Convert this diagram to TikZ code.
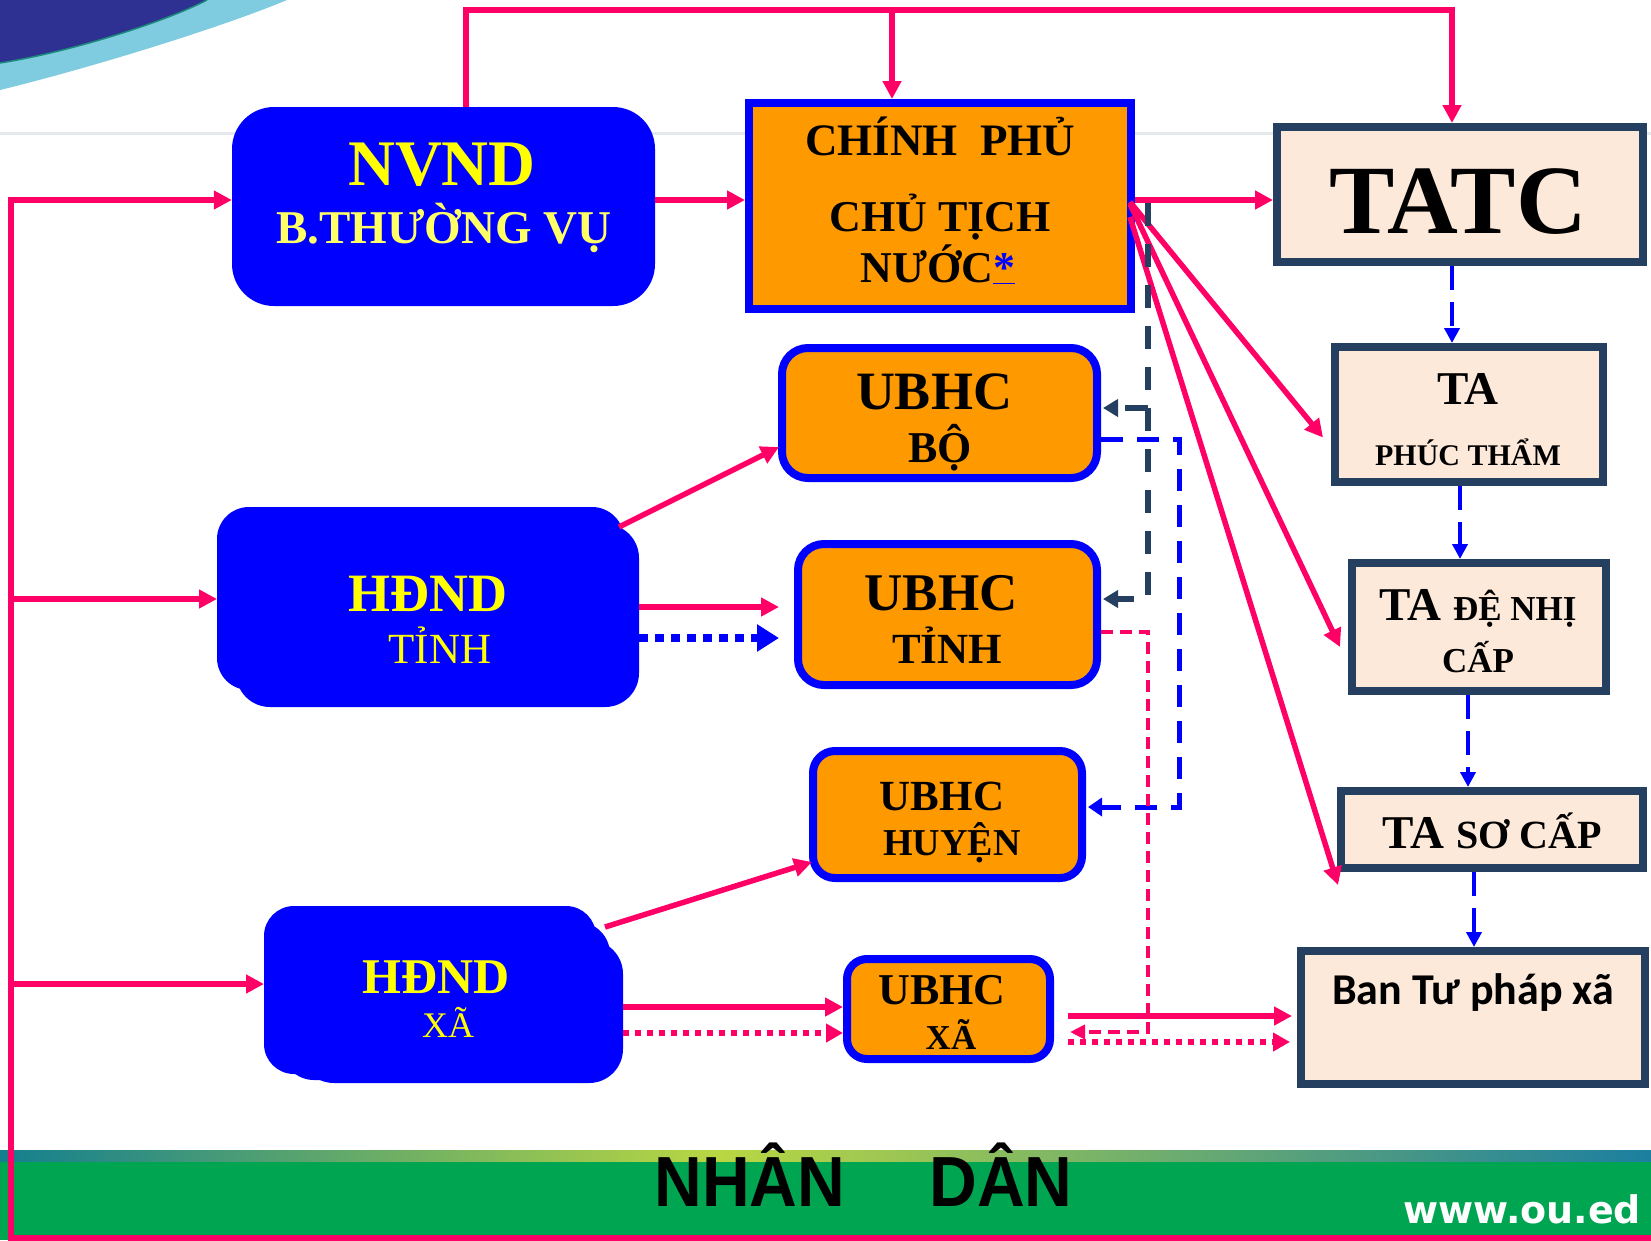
\documentclass[tikz,border=0pt]{standalone}
\usepackage{fontspec}
\setmainfont{Liberation Serif}
\newfontfamily\nsans[FakeStretch=0.93]{Liberation Sans}
\newfontfamily\carl{Carlito}
\newfontfamily\dejav{DejaVu Sans}
\usetikzlibrary{arrows.meta,calc}
\definecolor{rd}{HTML}{FF0066}
\definecolor{bl}{HTML}{0000FF}
\definecolor{nvy}{HTML}{243F60}
\definecolor{org}{HTML}{FF9900}
\definecolor{peach}{HTML}{FDE9D9}
\definecolor{yl}{HTML}{FFFF00}
\definecolor{yl2}{HTML}{FFFF66}
\definecolor{grn}{HTML}{00A552}
\definecolor{swnavy}{HTML}{2E3192}
\definecolor{swcyan}{HTML}{7FCCE0}
\definecolor{swline}{HTML}{1B8A7A}
\definecolor{hdr}{HTML}{E3E9EC}
\definecolor{tealA}{HTML}{137F8F}
\definecolor{ylgrn}{HTML}{B9D742}
\definecolor{tealB}{HTML}{1C7FA0}
\tikzset{
  ubox/.style={draw=bl, line width=8pt, fill=org, inner sep=0pt},
  tabox/.style={draw=nvy, line width=8pt, fill=peach, inner sep=0pt},
  ghost/.style={inner sep=0pt, outer sep=0pt},
  txt/.style={inner sep=0pt, anchor=base},
  rl/.style={draw=rd, line width=5.5pt},
  rtip/.style={-{Triangle[length=18pt,width=18pt]}},
  rdot/.style={draw=rd, line width=6pt, dash pattern=on 6pt off 6pt, -{Triangle[length=17pt,width=18pt]}},
  bdot/.style={draw=bl, line width=8pt, dash pattern=on 9pt off 7pt, -{Triangle[length=22pt,width=26pt]}},
  nvd/.style={draw=nvy, line width=5.5pt, dash pattern=on 23pt off 18pt, -{Triangle[length=15pt,width=17pt]}},
  bd/.style={draw=bl, line width=5pt, dash pattern=on 22pt off 14pt, -{Triangle[length=14pt,width=18pt]}},
  bv/.style={draw=bl, line width=4.5pt, dash pattern=on 24pt off 12pt, -{Triangle[length=15pt,width=15pt]}},
  rthin/.style={draw=rd, line width=4pt, dash pattern=on 12pt off 7pt, -{Triangle[length=15pt,width=14pt]}},
}
\begin{document}
\begin{tikzpicture}[x=1pt,y=-1pt]
\useasboundingbox (0,0) rectangle (1651,1240);
% background decorations
\fill[white] (0,0) rectangle (1651,1240);
\fill[swcyan] (0,0) -- (287,0) .. controls (220,28) and (90,68) .. (0,90) -- cycle;
\fill[swnavy] (0,0) -- (207,0) .. controls (165,22) and (70,52) .. (0,63) -- cycle;
\draw[swline, line width=1.5pt] (207,0) .. controls (165,22) and (70,52) .. (0,63);
\draw[hdr, line width=3pt] (0,133) -- (1651,133);
\fill[grn] (0,1153) rectangle (1651,1240);
\shade[left color=tealA, right color=ylgrn] (0,1150) rectangle (720,1161);
\shade[left color=ylgrn, right color=tealB] (720,1150) rectangle (1651,1161);

% HDND shapes
\fill[bl, rounded corners=32pt] (217,507) rectangle (624,690);
\fill[bl, rounded corners=34pt] (236,524) rectangle (639,707);
\node[ghost, minimum width=422pt, minimum height=200pt] (hdt) at (428,607) {};
\fill[bl, rounded corners=30pt] (264,906) rectangle (596,1074);
\fill[bl, rounded corners=32pt] (282,922) rectangle (610,1080);
\fill[bl, rounded corners=34pt] (300,940) rectangle (623,1083);
\node[ghost, minimum width=359pt, minimum height=177pt] (hdx) at (443.5,994.5) {};

% boxes
\node[fill=bl, rounded corners=42pt, inner sep=0pt, minimum width=423pt, minimum height=199pt] (nv) at (443.5,206.5) {};
\node[ubox, minimum width=382pt, minimum height=206pt] (cp) at (940,206) {};
\node[tabox, minimum width=366pt, minimum height=135pt] (tatc) at (1460,194.5) {};
\node[ubox, rounded corners=26pt, minimum width=315pt, minimum height=130pt] (bo) at (939.5,413) {};
\node[ubox, rounded corners=26pt, minimum width=299pt, minimum height=141pt] (tinh) at (947.5,614.5) {};
\node[ubox, rounded corners=22pt, minimum width=269pt, minimum height=127pt] (huyen) at (947.5,814.5) {};
\node[ubox, rounded corners=20pt, minimum width=203pt, minimum height=100pt] (xa) at (948.5,1009) {};
\node[tabox, minimum width=268pt, minimum height=135pt] (pt) at (1469,414.5) {};
\node[tabox, minimum width=254pt, minimum height=128pt] (dnc) at (1479,627) {};
\node[tabox, minimum width=302pt, minimum height=77pt] (sc) at (1492,829.5) {};
\node[tabox, minimum width=344pt, minimum height=133pt] (btp) at (1473,1017.5) {};

% texts
\node[txt, text=yl, font=\bfseries\fontsize{65}{65}\selectfont] (nvt1) at (442,185) {NVND};
\node[txt, text=yl2, font=\bfseries\fontsize{47}{47}\selectfont] (nvt2) at (444,243) {B.THƯỜNG VỤ};
\node[txt, font=\bfseries\fontsize{45}{45}\selectfont] (cpt1) at (940,155) {CHÍNH\ \ PHỦ};
\node[txt, font=\bfseries\fontsize{44}{44}\selectfont] (cpt2) at (940,231) {CHỦ TỊCH};
\node[txt, font=\bfseries\fontsize{44}{44}\selectfont] (cpt3) at (938,282) {NƯỚC\textcolor{bl}{\underline{*}}};
\node[txt, font=\bfseries\fontsize{98}{98}\selectfont] (tatct) at (1458,233) {TATC};
\node[txt, font=\bfseries\fontsize{54}{54}\selectfont] (bot1) at (934,409) {UBHC};
\node[txt, font=\bfseries\fontsize{44}{44}\selectfont] (bot2) at (940,462) {BỘ};
\node[txt, font=\bfseries\fontsize{53}{53}\selectfont] (tit1) at (941,610) {UBHC};
\node[txt, font=\bfseries\fontsize{43}{43}\selectfont] (tit2) at (947,663) {TỈNH};
\node[txt, font=\bfseries\fontsize{43}{43}\selectfont] (hut1) at (942,810) {UBHC};
\node[txt, font=\bfseries\fontsize{38}{38}\selectfont] (hut2) at (952,855) {HUYỆN};
\node[txt, font=\bfseries\fontsize{44}{44}\selectfont] (xat1) at (942,1004) {UBHC};
\node[txt, font=\bfseries\fontsize{35}{35}\selectfont] (xat2) at (951,1049) {XÃ};
\node[txt, font=\bfseries\fontsize{47}{47}\selectfont] (ptt1) at (1468,404) {TA};
\node[txt, font=\bfseries\fontsize{30}{30}\selectfont] (ptt2) at (1468,465) {PHÚC THẨM};
\node[txt, font=\bfseries] (dnt1) at (1478,620) {\fontsize{47}{47}\selectfont TA \fontsize{35}{35}\selectfont ĐỆ NHỊ};
\node[txt, font=\bfseries\fontsize{35}{35}\selectfont] (dnt2) at (1478,672) {CẤP};
\node[txt, font=\bfseries] (sct) at (1492,848) {\fontsize{47}{47}\selectfont TA \fontsize{40}{40}\selectfont SƠ CẤP};
\node[txt, font=\carl\bfseries\fontsize{44}{44}\selectfont] (btpt) at (1473,1004) {Ban Tư pháp xã};
\node[txt, text=yl, font=\bfseries\fontsize{54}{54}\selectfont] (hdt1) at (428,611) {HĐND};
\node[txt, text=yl, font=\fontsize{43}{43}\selectfont] (hdt2) at (440,663) {TỈNH};
\node[txt, text=yl, font=\bfseries\fontsize{50}{50}\selectfont] (hdx1) at (436,993) {HĐND};
\node[txt, text=yl, font=\fontsize{36}{36}\selectfont] (hdx2) at (448,1037) {XÃ};
\node[txt, font=\nsans\bfseries\fontsize{71}{71}\selectfont] (nd1) at (750,1206) {NHÂN};
\node[txt, font=\nsans\bfseries\fontsize{71}{71}\selectfont] (nd2) at (1001,1206) {DÂN};
\node[txt, anchor=base west, text=white, font=\dejav\bfseries\fontsize{38}{38}\selectfont] (www) at (1403,1223) {www.ou.ed};

% coordinates
\coordinate (tl) at (466,10);
\coordinate (tr) at (1452,10);
\coordinate (tm) at (892,10);
\coordinate (lb) at (11,200);
\coordinate (lbb) at (11,1238);
\coordinate (rbb) at (1665,1238);
\coordinate (ya) at (0,200);
\coordinate (yt) at (0,599);
\coordinate (yx) at (0,984);

% red solid connectors
\draw[rl, rtip, line join=miter] (nv.north -| tl) -- (tl) -- (tr) -- (tr |- tatc.north);
\draw[rl, rtip] (tm) -- (tm |- cp.north);
\draw[rl, rtip, line join=miter] (rbb) -- (lbb) -- (lb) -- (nv.west |- lb);
\draw[rl, rtip] (lb |- yt) -- (hdt.west |- yt);
\draw[rl, rtip] (lb |- yx) -- (hdx.west |- yx);
\draw[rl, rtip] (nv.east |- ya) -- (cp.west |- ya);
\draw[rl, rtip] (cp.east |- ya) -- (tatc.west |- ya);
\draw[rl, rtip] ($(cp.east)+(-5,-4)$) -- ($(pt.west)+(-8,23)$);
\draw[rl, rtip] ($(cp.east)+(-5,-2)$) -- ($(dnc.west)+(-8,20)$);
\draw[rl, rtip] ($(cp.east)+(-5,11)$) -- ($(sc.south west)+(1,13)$);
\draw[rl, rtip] ($(hdt.north east)+(-20,20)$) -- ($(bo.south west)+(1,-35)$);
\draw[rl, rtip] (hdt.east) -- ($(hdt.east -| tinh.west)+(-15,0)$);
\draw[bdot] ($(hdt.east)+(0,31)$) -- ($(hdt.east -| tinh.west)+(-15,31)$);
\draw[rl, rtip] ($(hdx.north east)+(-18,21)$) -- ($(huyen.south west)+(3,-20)$);
\draw[rl, rtip] ($(hdx.east)+(0,12.5)$) -- ($(hdx.east -| xa.west)+(0,12.5)$);
\draw[rdot] ($(hdx.east)+(0,38.5)$) -- ($(hdx.east -| xa.west)+(0,38.5)$);
\draw[rl, rtip] ($(xa.east)+(14,7)$) -- ($(xa.east -| btp.west)+(-5,7)$);
\draw[rdot] ($(xa.east)+(14,33)$) -- ($(xa.east -| btp.west)+(-7,33)$);

% navy dashed
\coordinate (nx) at ($(cp.east)+(13,-3)$);
\draw[nvd] (nx) |- ($(tinh.east)+(2,-15.5)$);
\draw[nvd] ($(nx)+(0,205)$) -- ($(bo.east)+(2,-5)$);

% blue dashed from Bo to Huyen
\coordinate (bx) at ($(bo.east)+(78,26)$);
\draw[bd] ($(bo.east)+(0,26)$) -- (bx) |- ($(huyen.east)+(2,-7.5)$);

% red thin dashed from Tinh to Xa
\draw[rthin] ($(tinh.east)+(0,17.5)$) -| ($(xa.east)+(94,23)$) -- ($(xa.east)+(16,23)$);

% blue dashed court chain
\draw[bv] ($(tatc.south)+(-8,0)$) -- ($(tatc.south |- pt.north)+(-8,0)$);
\draw[bv] ($(pt.south)+(-9,0)$) -- ($(pt.south |- dnc.north)+(-9,0)$);
\draw[bv] ($(dnc.south)+(-11,0)$) -- ($(dnc.south |- sc.north)+(-11,0)$);
\draw[bv] ($(sc.south)+(-18,0)$) -- ($(sc.south |- btp.north)+(-18,0)$);
\end{tikzpicture}
\end{document}
